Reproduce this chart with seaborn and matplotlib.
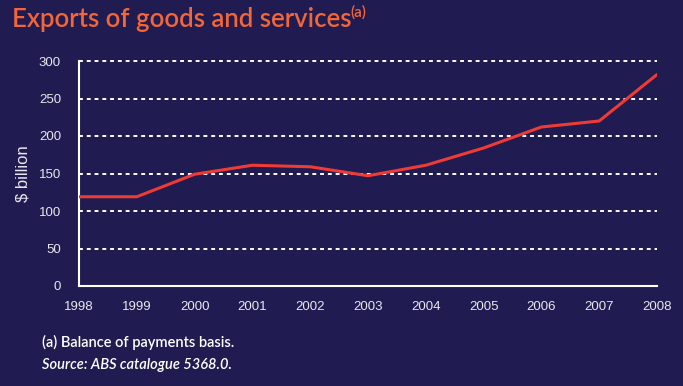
import matplotlib
matplotlib.use("Agg")
import matplotlib.pyplot as plt
import seaborn as sns
import pandas as pd

years = [1998, 1999, 2000, 2001, 2002, 2003, 2004, 2005, 2006, 2007, 2008]
exports = [119, 119, 149, 161, 159, 147, 161, 184, 212, 220, 282]
y_ticks = [0, 50, 100, 150, 200, 250, 300]

BG = "#201B50"
TITLE_C = "#F2663A"
LINE_C = "#EE3B36"
TXT = "#E8E8EE"
NARROW = ["Lato", "DejaVu Sans"]

sns.set_theme(style="white")
plt.rcParams['font.family'] = ['Liberation Sans', 'DejaVu Sans']

df = pd.DataFrame({"year": years, "value": exports})

fig = plt.figure(figsize=(6.83, 3.86), dpi=100, facecolor=BG)
ax = fig.add_axes([79/683, 1-286/386, (657-79)/683, (286-61)/386])
ax.set_facecolor(BG)

for t in y_ticks[1:]:
    ax.axhline(t, color="white", lw=1.4, ls=(0, (2, 2)), zorder=1, clip_on=False)

sns.lineplot(data=df, x="year", y="value", ax=ax, color=LINE_C, lw=2.2, zorder=3)

ax.set_xlim(1998, 2008)
ax.set_ylim(0, 300)
ax.set_xticks(years)
ax.set_xticklabels([str(y) for y in years])
ax.set_yticks(y_ticks)
for s in ["top", "right"]:
    ax.spines[s].set_visible(False)
for s in ["left", "bottom"]:
    ax.spines[s].set_color("white")
    ax.spines[s].set_linewidth(1.5)
ax.tick_params(axis="both", colors="white", direction="out", length=5, width=1.2,
               labelcolor=TXT, labelsize=9.5)
ax.tick_params(axis="x", pad=6)
ax.tick_params(axis="y", pad=8)
ax.set_xlabel("")
ax.set_ylabel("$ billion", color=TXT, fontsize=12, labelpad=6)

fig.text(12/683, 1-19/386, "Exports of goods and services", color=TITLE_C,
         fontsize=18.5, fontweight="semibold", family=NARROW, va="center", ha="left")
fig.text(350/683, 1-12/386, "(a)", color=TITLE_C,
         fontsize=11, fontweight="semibold", family=NARROW, va="center", ha="left")

fig.text(42/683, 1-342/386, "(a) Balance of payments basis.", color="white",
         fontsize=10.5, fontweight="semibold", family=NARROW, va="center", ha="left")
fig.text(42/683, 1-365/386, "Source: ABS catalogue 5368.0.", color="white", style="italic",
         fontsize=10.5, fontweight="semibold", family=NARROW, va="center", ha="left")

fig.savefig("out.png", dpi=100, facecolor=BG)
